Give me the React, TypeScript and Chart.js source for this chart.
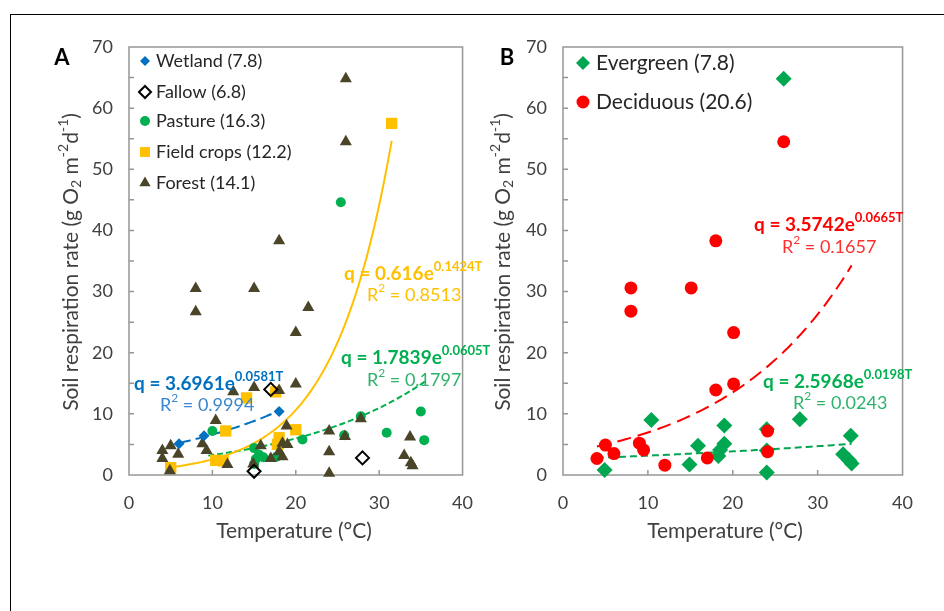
import React, { useEffect, useRef } from "react";
import { Chart, registerables } from "chart.js";
import { drawPoint } from "chart.js/helpers";
Chart.register(...registerables);

const FONT = "Lato, 'Open Sans', sans-serif";

// ---------- Panel A data ----------
const wetlandT = [6, 9, 18];
const wetlandQ = [5.1, 6.4, 10.4];
const fallowT = [17, 15, 28];
const fallowQ = [14.0, 0.6, 2.8];
const pastureT = [25.4, 35, 35.4, 30.9, 27.8, 25.8, 20.8, 18, 10, 15, 15, 16.1, 15.6, 17.7, 15.2];
const pastureQ = [44.6, 10.4, 5.7, 6.9, 9.6, 6.5, 5.8, 4.7, 7.2, 4.4, 1.8, 2.9, 3.3, 3.0, 2.6];
const cropsT = [31.5, 14.1, 17.6, 11.6, 20, 18, 17.8, 10.4, 11.3, 5];
const cropsQ = [57.5, 12.6, 13.6, 7.2, 7.4, 6.1, 5.0, 2.4, 2.3, 1.2];
const forestT = [26, 26, 18, 8, 15, 8, 21.5, 20, 20, 15, 12.5, 18, 10.4, 27.8, 18.9, 24, 25.9, 33.7, 4, 4,
  5, 5.9, 8.8, 9.3, 4.9, 11.8, 15.8, 18.4, 17, 18.4, 18, 24, 24, 33, 33.8, 34, 14.9, 19];
const forestQ = [64.8, 54.5, 38.3, 30.5, 30.5, 26.7, 27.4, 23.3, 14.9, 14.3, 13.6, 13.8, 8.9, 9.2, 8.0, 7.2, 6.3, 6.2, 4.0, 2.7,
  4.8, 3.4, 5.1, 4.0, 0.7, 1.7, 4.8, 5.2, 2.7, 3.0, 3.8, 3.8, 0.3, 3.2, 2.0, 1.5, 1.8, 5.0];

// ---------- Panel B data ----------
const evergreenT = [26, 10.4, 27.9, 19, 24, 33.9, 19, 15.9, 18.5, 18.3, 24, 33, 33.7, 34, 14.9, 4.9, 24];
const evergreenQ = [64.8, 9.0, 9.1, 8.1, 7.5, 6.4, 5.1, 4.8, 4.1, 3.1, 4.0, 3.4, 2.4, 1.9, 1.7, 0.8, 0.4];
const deciduousT = [26, 18, 8, 15.1, 8, 20.1, 20.1, 18, 24.1, 24.1, 5, 9, 9.5, 4, 6, 12, 17];
const deciduousQ = [54.5, 38.3, 30.6, 30.6, 26.8, 23.3, 14.9, 13.9, 7.2, 3.8, 4.9, 5.2, 4.1, 2.7, 3.5, 1.6, 2.8];

// ---------- exponential fits q = a * e^(bT) ----------
const wetlandFit = { a: 3.6961, b: 0.0581, from: 6, to: 18 };
const cropsFit = { a: 0.616, b: 0.1424, from: 5, to: 31.5 };
const pastureFit = { a: 1.7839, b: 0.0605, from: 9.5, to: 35.5 };
const deciduousFit = { a: 3.5742, b: 0.0665, from: 4, to: 34 };
const evergreenFit = { a: 2.5968, b: 0.0198, from: 4, to: 34 };

const xTicks = [0, 10, 20, 30, 40];
const yTicks = [0, 10, 20, 30, 40, 50, 60, 70];

const pts = (t: number[], q: number[]) => t.map((x, i) => ({ x, y: q[i] }));
const curve = (f: { a: number; b: number; from: number; to: number }) => {
  const n = 80;
  const out: { x: number; y: number }[] = [];
  for (let i = 0; i <= n; i++) {
    const x = f.from + ((f.to - f.from) * i) / n;
    out.push({ x, y: f.a * Math.exp(f.b * x) });
  }
  return out;
};

type Seg = { t: string; s?: "sup" | "sub"; b?: boolean };

function segFont(sg: Seg, size: number) {
  const fs = sg.s ? Math.round(size * 0.68) : size;
  return `${sg.b ? "bold " : ""}${fs}px ${FONT}`;
}
function richWidth(ctx: CanvasRenderingContext2D, segs: Seg[], size: number) {
  let w = 0;
  for (const sg of segs) {
    ctx.font = segFont(sg, size);
    w += ctx.measureText(sg.t).width;
  }
  return w;
}
function drawRich(ctx: CanvasRenderingContext2D, segs: Seg[], x: number, y: number, size: number, color: string) {
  let cx = x;
  ctx.fillStyle = color;
  ctx.textBaseline = "middle";
  ctx.textAlign = "left";
  for (const sg of segs) {
    ctx.font = segFont(sg, size);
    const dy = sg.s === "sup" ? -size * 0.38 : sg.s === "sub" ? size * 0.25 : 0;
    ctx.fillText(sg.t, cx, y + dy);
    cx += ctx.measureText(sg.t).width;
  }
}

const Y_W = 40;
const X_H = 40;

type Note = { segs: Seg[]; x: number; y: number; size: number; color: string };
type Spec = {
  left: number;
  width: number;
  height: number;
  area: { left: number; top: number; right: number; bottom: number };
  datasets: any[];
  legendItems: number[];
  legendX: number;
  legendTextX: number;
  legendY: number[];
  legendFont: number;
  legendRadius: number[];
  notes: Note[];
  letter: string;
  letterPos: [number, number];
  yTitlePos: [number, number];
  xTitlePos: [number, number];
};

const FRAME = "#969696";

const yTitle: Seg[] = [
  { t: "Soil respiration rate (g O" },
  { t: "2", s: "sub" },
  { t: " m" },
  { t: "-2", s: "sup" },
  { t: "d" },
  { t: "-1", s: "sup" },
  { t: ")" },
];

function panelPlugin(spec: Spec) {
  return {
    id: "panelDecor" + spec.letter,
    beforeDatasetsDraw(chart: any) {
      const ctx = chart.ctx as CanvasRenderingContext2D;
      const { left, top, right, bottom } = chart.chartArea;
      ctx.save();
      ctx.strokeStyle = FRAME;
      ctx.lineWidth = 1.5;
      ctx.strokeRect(left, top, right - left, bottom - top);
      const ys = chart.scales.y;
      const xs = chart.scales.x;
      ctx.beginPath();
      for (let v = 5; v < 70; v += 5) {
        const py = ys.getPixelForValue(v);
        ctx.moveTo(left, py);
        ctx.lineTo(left + 5, py);
      }
      for (let v = 10; v < 40; v += 10) {
        const px = xs.getPixelForValue(v);
        ctx.moveTo(px, bottom);
        ctx.lineTo(px, bottom - 5);
      }
      ctx.stroke();
      ctx.restore();
    },
    afterDraw(chart: any) {
      const ctx = chart.ctx as CanvasRenderingContext2D;
      ctx.save();
      // legend
      spec.legendItems.forEach((di, k) => {
        const ds = chart.data.datasets[di];
        const y = spec.legendY[k];
        ctx.fillStyle = ds.backgroundColor;
        ctx.strokeStyle = ds.borderColor;
        ctx.lineWidth = ds.borderWidth || 0;
        drawPoint(ctx, { pointStyle: ds.pointStyle, rotation: 0, radius: spec.legendRadius[k], borderWidth: ds.borderWidth || 0 } as any, spec.legendX, y);
        ctx.fillStyle = "#262626";
        ctx.font = `${spec.legendFont}px ${FONT}`;
        ctx.textAlign = "left";
        ctx.textBaseline = "middle";
        ctx.fillText(ds.label, spec.legendTextX, y);
      });
      // equations
      for (const n of spec.notes) drawRich(ctx, n.segs, n.x, n.y, n.size, n.color);
      // panel letter
      ctx.fillStyle = "#000";
      ctx.font = `bold 22px ${FONT}`;
      ctx.textAlign = "center";
      ctx.textBaseline = "middle";
      ctx.fillText(spec.letter, spec.letterPos[0], spec.letterPos[1]);
      // x title
      ctx.fillStyle = "#404040";
      ctx.font = `21px ${FONT}`;
      ctx.fillText("Temperature (\u00B0C)", spec.xTitlePos[0], spec.xTitlePos[1]);
      // y title
      ctx.translate(spec.yTitlePos[0], spec.yTitlePos[1]);
      ctx.rotate(-Math.PI / 2);
      const w = richWidth(ctx, yTitle, 21);
      drawRich(ctx, yTitle, -w / 2, 0, 21, "#404040");
      ctx.restore();
    },
  };
}

function buildConfig(spec: Spec): any {
  const tickFont = { family: FONT, size: 18 };
  return {
    type: "scatter",
    data: { datasets: spec.datasets },
    options: {
      animation: false,
      responsive: false,
      maintainAspectRatio: false,
      events: [],
      layout: {
        padding: {
          left: spec.area.left - Y_W,
          top: spec.area.top,
          right: spec.width - spec.area.right,
          bottom: spec.height - spec.area.bottom - X_H,
        },
      },
      plugins: { legend: { display: false }, tooltip: { enabled: false } },
      scales: {
        x: {
          type: "linear",
          min: xTicks[0],
          max: xTicks[xTicks.length - 1],
          afterBuildTicks: (s: any) => { s.ticks = xTicks.map((v) => ({ value: v })); },
          ticks: { padding: 17, font: tickFont, color: "#404040" },
          grid: { display: false, drawTicks: false },
          border: { display: false },
          afterFit: (s: any) => { s.height = X_H; },
        },
        y: {
          type: "linear",
          min: yTicks[0],
          max: yTicks[yTicks.length - 1],
          afterBuildTicks: (s: any) => { s.ticks = yTicks.map((v) => ({ value: v })); },
          ticks: { padding: 16, font: tickFont, color: "#404040" },
          grid: { display: false, drawTicks: false },
          border: { display: false },
          afterFit: (s: any) => { s.width = Y_W; },
        },
      },
    },
    plugins: [panelPlugin(spec)],
  };
}

const marker = (label: string, data: any[], style: string, fill: string, border: string, radius: number, bw: number, order: number) => ({
  label,
  data,
  pointStyle: style,
  backgroundColor: fill,
  borderColor: border,
  pointRadius: radius,
  borderWidth: bw,
  pointBorderWidth: bw,
  showLine: false,
  clip: false,
  order,
});
const fitLine = (data: any[], color: string, dash: number[], order: number) => ({
  label: "",
  data,
  showLine: true,
  pointRadius: 0,
  borderColor: color,
  backgroundColor: color,
  borderWidth: 2,
  borderDash: dash,
  fill: false,
  tension: 0,
  clip: false,
  order,
});

const BLUE = "#0070C0";
const GREEN = "#00B050";
const GOLD = "#FFC000";
const OLIVE = "#4A4529";
const EVERGREEN = "#00A650";
const RED = "#FF0000";

const specA: Spec = {
  left: 0,
  width: 490,
  height: 580,
  area: { left: 129, top: 47, right: 474, bottom: 475 },
  datasets: [
    marker("Wetland (7.8)", pts(wetlandT, wetlandQ), "rectRot", BLUE, BLUE, 5.5, 0, 1),
    marker("Fallow (6.8)", pts(fallowT, fallowQ), "rectRot", "rgba(0,0,0,0)", "#000", 6.5, 2, 0),
    marker("Pasture (16.3)", pts(pastureT, pastureQ), "circle", GREEN, GREEN, 5, 0, 4),
    marker("Field crops (12.2)", pts(cropsT, cropsQ), "rect", GOLD, GOLD, 8, 0, 3),
    marker("Forest (14.1)", pts(forestT, forestQ), "triangle", OLIVE, OLIVE, 7, 0, 2),
    fitLine(curve(wetlandFit), BLUE, [12, 5], 10),
    fitLine(curve(cropsFit), GOLD, [], 11),
    fitLine(curve(pastureFit), GREEN, [6, 3], 12),
  ],
  legendItems: [0, 1, 2, 3, 4],
  legendX: 145,
  legendTextX: 156,
  legendY: [61, 92, 121, 152, 183],
  legendFont: 18,
  legendRadius: [5, 6, 5, 7, 6.5],
  notes: [
    { segs: [{ t: "q = 3.6961e", b: true }, { t: "0.0581T", b: true, s: "sup" }], x: 134, y: 384, size: 19, color: BLUE },
    { segs: [{ t: "R" }, { t: "2", s: "sup" }, { t: " = 0.9994" }], x: 160, y: 405, size: 18, color: "#3A87CF" },
    { segs: [{ t: "q = 0.616e", b: true }, { t: "0.1424T", b: true, s: "sup" }], x: 344, y: 274, size: 19, color: GOLD },
    { segs: [{ t: "R" }, { t: "2", s: "sup" }, { t: " = 0.8513" }], x: 367, y: 295, size: 18, color: GOLD },
    { segs: [{ t: "q = 1.7839e", b: true }, { t: "0.0605T", b: true, s: "sup" }], x: 341, y: 358, size: 19, color: GREEN },
    { segs: [{ t: "R" }, { t: "2", s: "sup" }, { t: " = 0.1797" }], x: 367, y: 380, size: 18, color: "#2DB36B" },
  ],
  letter: "A",
  letterPos: [62, 58],
  yTitlePos: [71, 262],
  xTitlePos: [294, 531],
};

const OFFB = 440;
const specB: Spec = {
  left: OFFB,
  width: 490,
  height: 580,
  area: { left: 563 - OFFB, top: 47, right: 908 - OFFB, bottom: 475 },
  datasets: [
    marker("Evergreen (7.8)", pts(evergreenT, evergreenQ), "rectRot", EVERGREEN, EVERGREEN, 8, 0, 1),
    marker("Deciduous (20.6)", pts(deciduousT, deciduousQ), "circle", RED, RED, 6.5, 0, 0),
    fitLine(curve(deciduousFit), RED, [14, 7], 10),
    fitLine(curve(evergreenFit), EVERGREEN, [7, 4], 11),
  ],
  legendItems: [0, 1],
  legendX: 583 - OFFB,
  legendTextX: 596 - OFFB,
  legendY: [63, 102],
  legendFont: 21,
  legendRadius: [7, 6.5],
  notes: [
    { segs: [{ t: "q = 3.5742e", b: true }, { t: "0.0665T", b: true, s: "sup" }], x: 754 - OFFB, y: 225, size: 19, color: RED },
    { segs: [{ t: "R" }, { t: "2", s: "sup" }, { t: " = 0.1657" }], x: 782 - OFFB, y: 247, size: 18, color: "#FF3030" },
    { segs: [{ t: "q = 2.5968e", b: true }, { t: "0.0198T", b: true, s: "sup" }], x: 763 - OFFB, y: 382, size: 19, color: GREEN },
    { segs: [{ t: "R" }, { t: "2", s: "sup" }, { t: " = 0.0243" }], x: 793 - OFFB, y: 403, size: 18, color: "#2DB36B" },
  ],
  letter: "B",
  letterPos: [507 - OFFB, 58],
  yTitlePos: [503 - OFFB, 262],
  xTitlePos: [725 - OFFB, 531],
};

function Panel({ spec }: { spec: Spec }) {
  const ref = useRef<HTMLCanvasElement>(null);
  useEffect(() => {
    const chart = new Chart(ref.current as HTMLCanvasElement, buildConfig(spec));
    return () => chart.destroy();
  }, [spec]);
  return (
    <canvas
      ref={ref}
      width={spec.width}
      height={spec.height}
      style={{ position: "absolute", left: spec.left, top: 0, width: spec.width, height: spec.height }}
    />
  );
}

export default function App() {
  return (
    <div style={{ position: "absolute", left: 0, top: 0, width: 944, height: 611, overflow: "hidden", background: "#fff" }}>
      <div
        style={{
          position: "absolute",
          left: 10,
          top: 14,
          width: 934,
          height: 597,
          borderTop: "1px solid #000",
          borderLeft: "1px solid #000",
          boxSizing: "border-box",
        }}
      />
      <Panel spec={specA} />
      <Panel spec={specB} />
    </div>
  );
}
